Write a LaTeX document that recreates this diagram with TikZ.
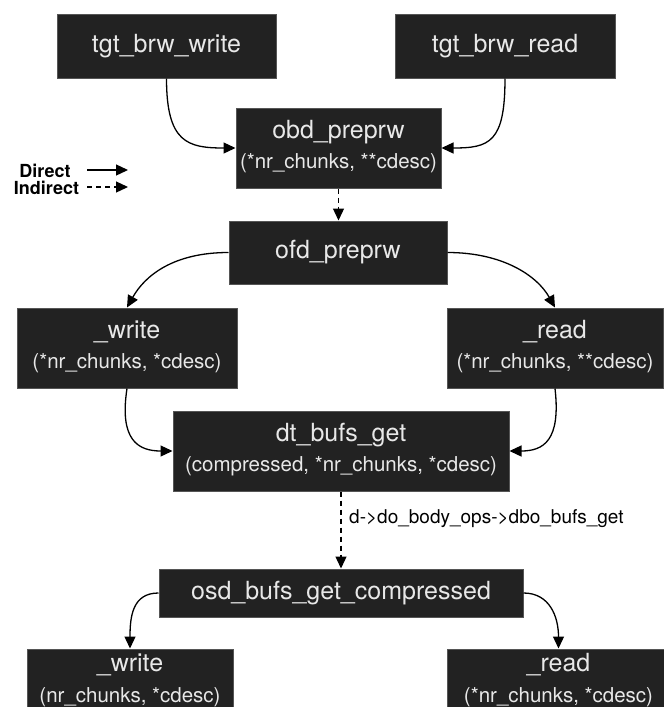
\documentclass[tikz,border=0pt]{standalone}
\usepackage{fontspec}
\setmainfont{TeX Gyre Heros}
\usetikzlibrary{arrows.meta}

\definecolor{boxfill}{RGB}{34,34,34}
\definecolor{boxedge}{RGB}{85,85,85}
\definecolor{boxtext}{RGB}{232,232,232}

\tikzset{
  fnbox/.style={draw=boxedge, fill=boxfill, line width=1pt, inner sep=0pt,
    text=boxtext, font=\fontsize{25}{30}\selectfont},
  fname/.style={font=\fontsize{25}{30}\selectfont, text=boxtext, inner sep=0pt, anchor=base},
  fargs/.style={font=\fontsize{20.5}{25}\selectfont, text=boxtext, inner sep=0pt, anchor=base},
  call/.style={-{Triangle[length=12pt,width=11pt]}, line width=1.3pt},
  indirect/.style={call, dash pattern=on 5pt off 4pt},
  legendtext/.style={font=\bfseries\fontsize{18}{18}\selectfont, inner sep=0pt, anchor=base},
  vialabel/.style={font=\fontsize{19}{22}\selectfont, inner sep=0pt, anchor=west},
}

\begin{document}
\begin{tikzpicture}[x=1pt, y=-1pt]
\useasboundingbox (0,0) rectangle (664,707);
\clip (0,0) rectangle (664,707);

% entry points
\node[fnbox, minimum width=219pt, minimum height=64pt] (tgtw) at (166.5,46) {tgt\_brw\_write};
\node[fnbox, minimum width=220pt, minimum height=64pt] (tgtr) at (505,46) {tgt\_brw\_read};

% obd layer
\node[fnbox, minimum width=205pt, minimum height=80pt] (obd) at (338.5,148) {};
\node[fname] (obdA) at ([yshift=9.5pt]obd.center) {obd\_preprw};
\node[fargs] (obdB) at ([yshift=-20.3pt]obd.center) {(*nr\_chunks, **cdesc)};

% legend
\node[legendtext] (ldirect) at (45,177) {Direct};
\node[legendtext] (lindirect) at (46.5,194) {Indirect};
\coordinate (ld0) at (87,170);
\coordinate (ld1) at (128,170);
\coordinate (li0) at (87,187);
\coordinate (li1) at (128,187);
\draw[call] (ld0) -- (ld1);
\draw[indirect] (li0) -- (li1);

% ofd layer
\node[fnbox, minimum width=218pt, minimum height=63pt] (ofd) at (338,252.5) {ofd\_preprw};

\node[fnbox, minimum width=220pt, minimum height=80pt] (wm) at (127,348) {};
\node[fname] (wmA) at ([yshift=9.5pt]wm.center) {\_write};
\node[fargs] (wmB) at ([yshift=-20.3pt]wm.center) {(*nr\_chunks, *cdesc)};

\node[fnbox, minimum width=216pt, minimum height=80pt] (rm) at (555,348) {};
\node[fname] (rmA) at ([yshift=9.5pt]rm.center) {\_read};
\node[fargs] (rmB) at ([yshift=-20.3pt]rm.center) {(*nr\_chunks, **cdesc)};

% dt layer
\node[fnbox, minimum width=336pt, minimum height=80pt] (dt) at (341,451) {};
\node[fname] (dtA) at ([yshift=9.5pt]dt.center) {dt\_bufs\_get};
\node[fargs] (dtB) at ([yshift=-20.3pt]dt.center) {(compressed, *nr\_chunks, *cdesc)};

% osd layer
\node[fnbox, minimum width=364pt, minimum height=48pt] (osd) at (341,593) {osd\_bufs\_get\_compressed};

\node[fnbox, minimum width=206pt, minimum height=64pt] (wb) at (130,681) {};
\node[fname] (wbA) at ([yshift=9.5pt]wb.center) {\_write};
\node[fargs] (wbB) at ([yshift=-21pt]wb.center) {(nr\_chunks, *cdesc)};

\node[fnbox, minimum width=223pt, minimum height=64pt] (rb) at (558.5,681) {};
\node[fname] (rbA) at ([yshift=9.5pt]rb.center) {\_read};
\node[fargs] (rbB) at ([yshift=-21pt]rb.center) {(*nr\_chunks, *cdesc)};

% calls
\draw[call] (tgtw.south) .. controls +(0,64) and +(-48,0) .. (obd.west);
\draw[call] (tgtr.south) .. controls +(0,64) and +(48,0) .. (obd.east);
\draw[indirect] (obd.south) -- (obd.south |- ofd.north);

\draw[call] (ofd.west) .. controls +(-55,0) and +(18,-32) .. (wm.north);
\draw[call] (ofd.east) .. controls +(55,0) and +(-18,-32) .. (rm.north);

\draw[call] (wm.south) .. controls +(-8,52) and +(-34,0) .. (dt.west);
\draw[call] (rm.south) .. controls +(6,52) and +(34,0) .. (dt.east);

\draw[indirect] (dt.south) -- (osd.north);
\node[vialabel] (via) at (349,519) {d->do\_body\_ops->dbo\_bufs\_get};

\draw[call] (osd.west) .. controls +(-26,0) and +(0,-32) .. (wb.north);
\draw[call] (osd.east) .. controls +(26,0) and +(0,-32) .. (rb.north);
\end{tikzpicture}
\end{document}
